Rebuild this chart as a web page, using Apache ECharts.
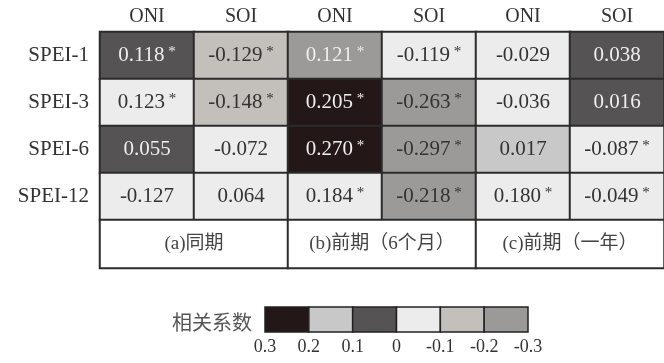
<!DOCTYPE html>
<html>
<head>
<meta charset="utf-8">
<script src="https://cdn.jsdelivr.net/npm/echarts@6/dist/echarts.min.js"></script>
<style>
  html, body { margin: 0; padding: 0; background: #fff; }
  #chart { width: 664px; height: 363px; }
</style>
</head>
<body>
<div id="chart"></div>
<script>
// Correlation between SPEI at several time scales and ENSO indices (ONI, SOI)
const rows = ['SPEI-1', 'SPEI-3', 'SPEI-6', 'SPEI-12'];
const cols = ['ONI', 'SOI', 'ONI', 'SOI', 'ONI', 'SOI'];
const periods = ['(a)同期', '(b)前期（6个月）', '(c)前期（一年）'];

// correlation coefficients, one list per SPEI scale (columns as in `cols`)
const spei1 = [0.118, -0.129, 0.121, -0.119, -0.029, 0.038];
const spei3 = [0.123, -0.148, 0.205, -0.263, -0.036, 0.016];
const spei6 = [0.055, -0.072, 0.270, -0.297, 0.017, -0.087];
const spei12 = [-0.127, 0.064, 0.184, -0.218, 0.180, -0.049];

// significance flags (1 = marked with *)
const sig1 = [1, 1, 1, 1, 0, 0];
const sig3 = [1, 1, 1, 1, 0, 0];
const sig6 = [0, 0, 1, 1, 0, 1];
const sig12 = [0, 0, 1, 1, 1, 1];

// shading class of each cell, as an index into the legend swatches
const shade1 = [2, 4, 5, 3, 3, 2];
const shade3 = [3, 4, 0, 5, 3, 2];
const shade6 = [2, 3, 0, 5, 1, 3];
const shade12 = [3, 3, 3, 5, 3, 3];

// legend swatches: upper bound, lower bound
const binHigh = [0.3, 0.2, 0.1, 0, -0.1, -0.2];
const binLow = [0.2, 0.1, 0, -0.1, -0.2, -0.3];
const legendTicks = ['0.3', '0.2', '0.1', '0', '-0.1', '-0.2', '-0.3'];

const swatchColors = ['#231717', '#c8c8c8', '#555353', '#ececec', '#c3bfbb', '#9b9a98'];
const serif = "'Liberation Serif', 'Times New Roman', 'Noto Sans CJK SC', serif";

const values = [spei1, spei3, spei6, spei12];
const sigs = [sig1, sig3, sig6, sig12];
const shades = [shade1, shade3, shade6, shade12];

const cellData = [];
values.forEach((row, r) => {
  row.forEach((v, c) => {
    const shade = shades[r][c];
    const dark = shade === 0 || shade === 2 || (shade === 5 && v > 0);
    cellData.push({
      value: [c, r, v, shade, sigs[r][c]],
      label: { color: dark ? '#eeeeee' : '#333' }
    });
  });
});

const periodData = periods.map((p, i) => [i, 0, 0]);
const legendData = binHigh.map((h, i) => [h, binLow[i], i]);

const chart = echarts.init(document.getElementById('chart'), null, { renderer: 'canvas' });

chart.setOption({
  animation: false,
  backgroundColor: '#fff',
  title: {
    text: '相关系数',
    left: 167, top: 307,
    textStyle: { fontFamily: "'Noto Sans CJK SC', sans-serif", fontSize: 20, fontWeight: 'normal', color: '#555' }
  },
  grid: [
    { left: 100, top: 32, width: 576, height: 188 },
    { left: 100, top: 220, width: 576, height: 48 },
    { left: 265, top: 307, width: 263, height: 25 }
  ],
  xAxis: [
    {
      type: 'category', gridIndex: 0, data: cols, position: 'top',
      axisLine: { show: false }, axisTick: { show: false },
      axisLabel: { fontFamily: serif, fontSize: 20, color: '#333', margin: 5 }
    },
    {
      type: 'category', gridIndex: 1, data: periods,
      axisLine: { show: false }, axisTick: { show: false }, axisLabel: { show: false }
    },
    {
      type: 'value', gridIndex: 2, min: -0.3, max: 0.3, interval: 0.1, inverse: true,
      axisLine: { show: false }, axisTick: { show: false }, splitLine: { show: false },
      axisLabel: {
        fontFamily: serif, fontSize: 18, color: '#333', margin: 6,
        formatter: (v) => legendTicks[Math.round((0.3 - v) * 10)]
      }
    }
  ],
  yAxis: [
    {
      type: 'category', gridIndex: 0, data: rows, inverse: true,
      axisLine: { show: false }, axisTick: { show: false },
      axisLabel: { fontFamily: serif, fontSize: 21, color: '#333', margin: 11 }
    },
    {
      type: 'category', gridIndex: 1, data: [''],
      axisLine: { show: false }, axisTick: { show: false }, axisLabel: { show: false }
    },
    {
      type: 'value', gridIndex: 2, min: 0, max: 1, show: false
    }
  ],
  visualMap: [
    {
      type: 'piecewise', show: false, dimension: 3, seriesIndex: 0,
      pieces: swatchColors.map((c, i) => ({ value: i, color: c }))
    },
    {
      type: 'piecewise', show: false, dimension: 2, seriesIndex: 2,
      pieces: swatchColors.map((c, i) => ({ value: i, color: c }))
    }
  ],
  series: [
    {
      type: 'heatmap', xAxisIndex: 0, yAxisIndex: 0,
      data: cellData,
      itemStyle: { borderColor: '#2b2b2b', borderWidth: 2 },
      label: {
        show: true,
        fontFamily: serif,
        formatter: (p) => {
          const v = p.value[2].toFixed(3);
          return p.value[4] ? '{v|' + v + '}{s| *}' : '{v|' + v + '}';
        },
        rich: {
          v: { fontFamily: serif, fontSize: 21 },
          s: { fontFamily: serif, fontSize: 15, padding: [0, 0, 6, 0] }
        }
      },
      emphasis: { disabled: true }
    },
    {
      type: 'heatmap', xAxisIndex: 1, yAxisIndex: 1,
      data: periodData,
      itemStyle: { color: '#fff', borderColor: '#2b2b2b', borderWidth: 2 },
      label: {
        show: true, fontFamily: serif, fontSize: 19, color: '#444',
        formatter: (p) => periods[p.value[0]]
      },
      emphasis: { disabled: true }
    },
    {
      type: 'custom', xAxisIndex: 2, yAxisIndex: 2,
      data: legendData,
      encode: { x: [0, 1] },
      renderItem: (params, api) => {
        const a = api.coord([api.value(0), 1]);
        const b = api.coord([api.value(1), 0]);
        return {
          type: 'rect',
          shape: { x: Math.min(a[0], b[0]), y: a[1], width: Math.abs(b[0] - a[0]), height: b[1] - a[1] },
          style: { fill: api.visual('color'), stroke: '#222', lineWidth: 1.5 }
        };
      }
    }
  ]
});
</script>
</body>
</html>
